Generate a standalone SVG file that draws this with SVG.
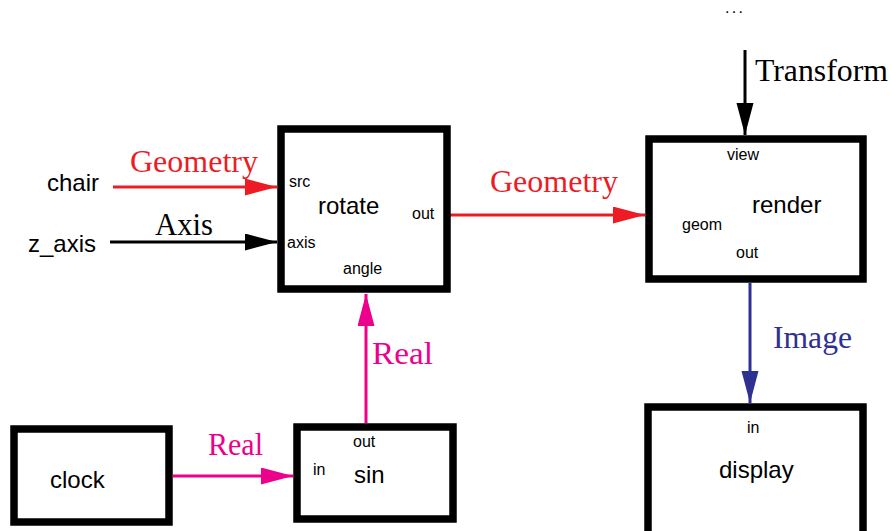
<svg xmlns="http://www.w3.org/2000/svg" width="891" height="531" viewBox="0 0 891 531">
<style>
.box{fill:#fff;stroke:#000;stroke-width:7.5}
.lbl{font-family:"Liberation Sans",Arial,sans-serif;font-size:24px;fill:#000}
.port{font-family:"Liberation Sans",Arial,sans-serif;font-size:16px;fill:#000}
.type{font-family:"Liberation Serif","Times New Roman",serif;font-size:31px}
.w{stroke-width:3;fill:none}
</style>
<defs>
<marker id="ar" markerUnits="userSpaceOnUse" markerWidth="34" markerHeight="18" refX="32" refY="8.5" orient="auto"><path d="M0,0 L32,8.5 L0,17 z" fill="#ed1c24"/></marker>
<marker id="ak" markerUnits="userSpaceOnUse" markerWidth="34" markerHeight="18" refX="32" refY="8.5" orient="auto"><path d="M0,0 L32,8.5 L0,17 z" fill="#000"/></marker>
<marker id="ap" markerUnits="userSpaceOnUse" markerWidth="34" markerHeight="18" refX="32" refY="8.5" orient="auto"><path d="M0,0 L32,8.5 L0,17 z" fill="#ec008c"/></marker>
<marker id="ab" markerUnits="userSpaceOnUse" markerWidth="34" markerHeight="18" refX="32" refY="8.5" orient="auto"><path d="M0,0 L32,8.5 L0,17 z" fill="#2e3192"/></marker>
</defs>
<rect width="891" height="531" fill="#fff"/>
<g id="connectors">
<line class="w" x1="113" y1="187" x2="277" y2="187" stroke="#ed1c24" marker-end="url(#ar)"/>
<text class="type" x="130" y="172" fill="#ed1c24" textLength="128" lengthAdjust="spacingAndGlyphs">Geometry</text>
<line class="w" x1="110" y1="242" x2="277" y2="242" stroke="#000" marker-end="url(#ak)"/>
<text class="type" x="155" y="235" fill="#000" textLength="58" lengthAdjust="spacingAndGlyphs">Axis</text>
<line class="w" x1="448" y1="215" x2="645" y2="215" stroke="#ed1c24" marker-end="url(#ar)"/>
<text class="type" x="490" y="192" fill="#ed1c24" textLength="128" lengthAdjust="spacingAndGlyphs">Geometry</text>
<line class="w" x1="745" y1="50" x2="745" y2="135" stroke="#000" marker-end="url(#ak)"/>
<text class="type" x="755" y="81" fill="#000" textLength="133" lengthAdjust="spacingAndGlyphs">Transform</text>
<line class="w" x1="750" y1="283" x2="750" y2="403" stroke="#2e3192" marker-end="url(#ab)"/>
<text class="type" x="773" y="348" fill="#2e3192" textLength="79" lengthAdjust="spacingAndGlyphs">Image</text>
<line class="w" x1="173" y1="476" x2="293" y2="476" stroke="#ec008c" marker-end="url(#ap)"/>
<text class="type" x="208" y="455" fill="#ec008c" textLength="55" lengthAdjust="spacingAndGlyphs">Real</text>
<line class="w" x1="366" y1="423" x2="366" y2="294" stroke="#ec008c" marker-end="url(#ap)"/>
<text class="type" x="372" y="364" fill="#ec008c" textLength="61" lengthAdjust="spacingAndGlyphs">Real</text>
</g>
<g id="chair"><text class="lbl" x="47" y="191">chair</text></g>
<g id="z_axis"><text class="lbl" x="28" y="252">z_axis</text></g>
<g id="dots"><text class="port" x="725" y="13" font-size="18" textLength="18">...</text></g>
<g id="rotate">
<rect class="box" x="281" y="129" width="166" height="160"/>
<text class="lbl" x="318" y="214">rotate</text>
<text class="port" x="289" y="187">src</text>
<text class="port" x="287" y="248">axis</text>
<text class="port" x="343" y="274">angle</text>
<text class="port" x="412" y="219">out</text>
</g>
<g id="render">
<rect class="box" x="649" y="139" width="214" height="140"/>
<text class="lbl" x="752" y="213">render</text>
<text class="port" x="727" y="160">view</text>
<text class="port" x="682" y="230">geom</text>
<text class="port" x="736" y="258">out</text>
</g>
<g id="display">
<rect class="box" x="648" y="407" width="215" height="132"/>
<text class="port" x="747" y="433">in</text>
<text class="lbl" x="719" y="478">display</text>
</g>
<g id="clock">
<rect class="box" x="14" y="429" width="155" height="93"/>
<text class="lbl" x="50" y="488">clock</text>
</g>
<g id="sin">
<rect class="box" x="297" y="427" width="156" height="92"/>
<text class="port" x="353" y="447">out</text>
<text class="port" x="313" y="475">in</text>
<text class="lbl" x="354" y="483">sin</text>
</g>
</svg>
